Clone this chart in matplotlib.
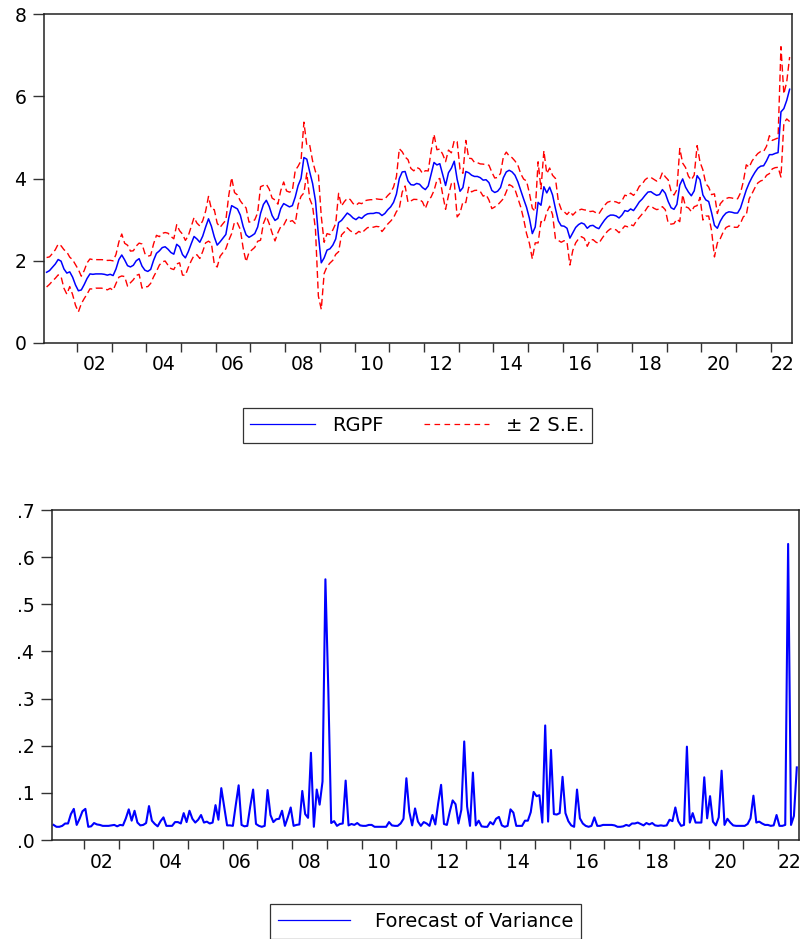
import matplotlib
matplotlib.use('Agg')
import matplotlib.pyplot as plt
import numpy as np
import pandas as pd
from matplotlib.lines import Line2D

plt.rcParams['font.family'] = ['DejaVu Sans']

# monthly sample 2001M02 .. 2022M07
months = pd.period_range('2001-02', '2022-07', freq='M')

# forecast of RGPF, one row per year
rgpf = [
    1.72, 1.76, 1.84, 1.92, 2.03, 1.99, 1.80, 1.70, 1.73, 1.60, 1.41,            # 2001
    1.27, 1.29, 1.42, 1.57, 1.68, 1.67, 1.68, 1.68, 1.68, 1.67, 1.65, 1.67,      # 2002
    1.64, 1.80, 2.03, 2.14, 2.02, 1.88, 1.85, 1.89, 2.00, 2.05, 1.87, 1.77,      # 2003
    1.74, 1.79, 2.01, 2.18, 2.24, 2.32, 2.34, 2.28, 2.20, 2.16, 2.40, 2.34,      # 2004
    2.15, 2.07, 2.22, 2.41, 2.59, 2.53, 2.45, 2.60, 2.82, 3.02, 2.84, 2.58,      # 2005
    2.38, 2.46, 2.55, 2.64, 3.04, 3.34, 3.30, 3.26, 3.11, 2.83, 2.63, 2.57,      # 2006
    2.61, 2.66, 2.82, 3.15, 3.37, 3.47, 3.32, 3.10, 2.98, 3.03, 3.27, 3.39,      # 2007
    3.35, 3.31, 3.34, 3.55, 3.83, 4.00, 4.51, 4.47, 4.16, 3.88, 3.46, 2.63,      # 2008
    1.95, 2.07, 2.26, 2.29, 2.38, 2.53, 2.93, 2.98, 3.07, 3.16, 3.11, 3.04,      # 2009
    3.00, 3.06, 3.03, 3.10, 3.14, 3.15, 3.15, 3.17, 3.16, 3.10, 3.15, 3.24,      # 2010
    3.31, 3.42, 3.62, 4.00, 4.16, 4.17, 3.94, 3.85, 3.84, 3.88, 3.86, 3.78,      # 2011
    3.73, 3.82, 4.11, 4.39, 4.33, 4.36, 4.10, 3.83, 4.14, 4.25, 4.42, 3.98,      # 2012
    3.69, 3.78, 4.17, 4.14, 4.08, 4.05, 4.05, 4.02, 3.96, 3.97, 3.90, 3.71,      # 2013
    3.66, 3.69, 3.78, 4.02, 4.16, 4.20, 4.16, 4.08, 3.92, 3.71, 3.50, 3.30,      # 2014
    3.03, 2.66, 2.82, 3.42, 3.35, 3.80, 3.65, 3.79, 3.60, 3.27, 2.97, 2.85,      # 2015
    2.84, 2.79, 2.55, 2.68, 2.81, 2.88, 2.92, 2.89, 2.79, 2.85, 2.86, 2.81,      # 2016
    2.78, 2.89, 2.99, 3.07, 3.11, 3.11, 3.09, 3.04, 3.11, 3.22, 3.20, 3.26,      # 2017
    3.22, 3.32, 3.43, 3.50, 3.59, 3.67, 3.68, 3.63, 3.59, 3.61, 3.73, 3.64,      # 2018
    3.44, 3.29, 3.25, 3.37, 3.84, 3.99, 3.79, 3.67, 3.58, 3.70, 4.07, 3.97,      # 2019
    3.60, 3.48, 3.44, 3.17, 2.86, 2.79, 2.96, 3.08, 3.16, 3.19, 3.18, 3.16,      # 2020
    3.16, 3.28, 3.50, 3.72, 3.89, 4.03, 4.15, 4.25, 4.30, 4.31, 4.43, 4.58,      # 2021
    4.58, 4.61, 4.63, 5.62, 5.70, 5.90, 6.17,                                    # 2022
]

# forecast of variance
variance = [
    .032, .028, .028, .030, .035, .035, .055, .066, .032, .045, .061,            # 2001
    .066, .028, .029, .036, .033, .032, .030, .030, .030, .031, .032, .029,      # 2002
    .032, .031, .046, .065, .041, .062, .037, .031, .032, .036, .072, .041,      # 2003
    .034, .029, .040, .048, .030, .030, .030, .038, .038, .035, .057, .038,      # 2004
    .062, .045, .037, .043, .053, .037, .039, .035, .037, .074, .043, .110,      # 2005
    .071, .031, .031, .030, .074, .116, .032, .029, .030, .071, .107, .034,      # 2006
    .030, .028, .030, .106, .053, .038, .044, .045, .062, .030, .048, .069,      # 2007
    .030, .032, .033, .104, .055, .047, .185, .028, .107, .075, .124, .553,      # 2008
    .320, .036, .040, .030, .034, .035, .126, .031, .034, .032, .036, .031,      # 2009
    .030, .030, .032, .032, .028, .028, .028, .028, .028, .038, .031, .030,      # 2010
    .030, .035, .045, .131, .060, .031, .067, .039, .030, .038, .035, .030,      # 2011
    .053, .033, .078, .117, .034, .032, .060, .084, .076, .035, .064, .209,      # 2012
    .071, .030, .143, .031, .041, .029, .028, .028, .038, .033, .045, .049,      # 2013
    .031, .028, .030, .065, .058, .030, .030, .030, .041, .041, .059, .102,      # 2014
    .093, .095, .037, .243, .039, .191, .055, .054, .057, .134, .057, .040,      # 2015
    .031, .028, .107, .046, .035, .030, .028, .030, .048, .030, .030, .032,      # 2016
    .032, .032, .032, .031, .028, .028, .029, .032, .030, .035, .035, .037,      # 2017
    .034, .031, .036, .033, .036, .031, .030, .031, .030, .031, .043, .040,      # 2018
    .069, .040, .030, .032, .198, .037, .057, .037, .037, .037, .133, .046,      # 2019
    .093, .039, .031, .048, .147, .032, .045, .037, .031, .030, .030, .030,      # 2020
    .030, .034, .046, .094, .037, .039, .035, .032, .032, .030, .031, .053,      # 2021
    .030, .030, .032, .628, .032, .051, .154,                                    # 2022
]

label_years = list(range(2002, 2023, 2))
top_yticks = [0, 2, 4, 6, 8]
bot_yticks = [0, .1, .2, .3, .4, .5, .6, .7]
bot_ylabels = ['.0', '.1', '.2', '.3', '.4', '.5', '.6', '.7']

rgpf = np.array(rgpf)
variance = np.array(variance)
t = months.year + (months.month - 0.5) / 12
se2 = 2 * np.sqrt(variance)

W, H = 803, 939
fig = plt.figure(figsize=(W / 100, H / 100), dpi=100)
ax1 = fig.add_axes([44 / W, 1 - 343 / H, (792 - 44) / W, (343 - 14) / H])
ax2 = fig.add_axes([52 / W, 1 - 840 / H, (799 - 52) / W, (840 - 510) / H])

blue = '#0000ff'
red = '#ff0000'
dash = (0, (5, 2.6))

ax1.plot(t, rgpf + se2, color=red, lw=1.0, ls=dash)
ax1.plot(t, rgpf - se2, color=red, lw=1.0, ls=dash)
ax1.plot(t, rgpf, color=blue, lw=1.1)
ax1.set_xlim(2001.05, 2022.61)
ax1.set_ylim(0, 8)
ax1.set_yticks(top_yticks)
ax1.set_yticklabels([str(v) for v in top_yticks])

ax2.plot(t, variance, color=blue, lw=1.5)
ax2.set_xlim(2001.08, 2022.605)
ax2.set_ylim(0, 0.7)
ax2.set_yticks(bot_yticks)
ax2.set_yticklabels(bot_ylabels)

for ax in (ax1, ax2):
    # year marks at year starts, labels in the middle of even years
    right = ax.get_xlim()[1]
    label_pos = [min(y + 0.5, right - 0.27) for y in label_years]
    ax.set_xticks(range(2002, 2023))
    ax.set_xticklabels([])
    ax.set_xticks(label_pos, minor=True)
    ax.set_xticklabels(['%02d' % (y % 100) for y in label_years], minor=True)
    ax.tick_params(axis='x', which='major', direction='out', length=6.2, width=1.0, color='#333333')
    ax.tick_params(axis='x', which='minor', length=0, pad=9, labelsize=13.5)
    ax.tick_params(axis='y', direction='out', length=8.2, width=1.0, color='#333333', pad=4.5, labelsize=13.5)
    for s in ax.spines.values():
        s.set_linewidth(1.1)
        s.set_color('#222222')

h1 = [Line2D([], [], color=blue, lw=0.9), Line2D([], [], color=red, lw=0.9, ls=(0, (4.5, 3.5)))]
leg1 = fig.legend(h1, ['RGPF', '\u00b1 2 S.E.'], loc='upper center', ncol=2,
                  bbox_to_anchor=(417.5 / W, 1 - 408 / H), fontsize=14, frameon=True,
                  fancybox=False, edgecolor='black', borderaxespad=0, borderpad=0.4,
                  handlelength=3.3, handletextpad=0.9, columnspacing=2.1)
leg1.get_frame().set_linewidth(0.9)

h2 = [Line2D([], [], color=blue, lw=0.9)]
leg2 = fig.legend(h2, ['Forecast of Variance'], loc='upper center',
                  bbox_to_anchor=(425.5 / W, 1 - 904 / H), fontsize=14, frameon=True,
                  fancybox=False, edgecolor='black', borderaxespad=0, borderpad=0.4,
                  handlelength=3.7, handletextpad=1.3)
leg2.get_frame().set_linewidth(0.9)

fig.savefig('out.png', dpi=100)
